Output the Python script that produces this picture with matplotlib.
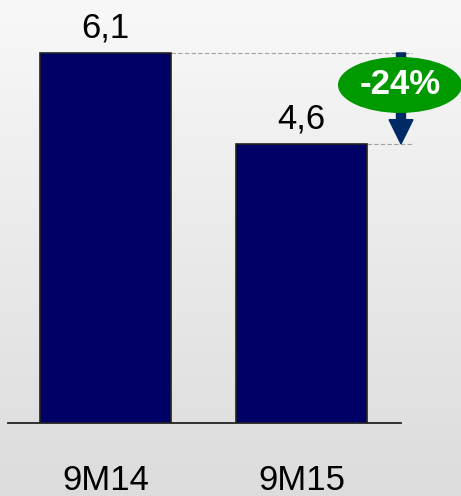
import numpy as np
import matplotlib
matplotlib.use('Agg')
import matplotlib.pyplot as plt
from matplotlib.patches import Ellipse, FancyArrow

plt.rcParams['font.family'] = ['Liberation Sans', 'DejaVu Sans']

categories = ['9M14', '9M15']
values = [6.1, 4.6]
value_labels = ['6,1', '4,6']
change_label = '-24%'

BAR_COLOR = '#000066'
GREEN = '#009900'
ARROW_COLOR = '#002a66'

fig = plt.figure(figsize=(4.61, 4.96), dpi=100)

# background gradient
bg = fig.add_axes([0, 0, 1, 1], zorder=-10)
grad = np.linspace(0, 1, 256).reshape(-1, 1)
bg.imshow(grad, aspect='auto', cmap=matplotlib.colors.LinearSegmentedColormap.from_list(
    'bg', ['#f8f8f8', '#dcdcdc']), extent=[0, 1, 0, 1])
bg.axis('off')

W, H = 461, 496
ax = fig.add_axes([8 / W, 1 - 423 / H, (401 - 8) / W, 418.6 / H])
ax.set_facecolor('none')
x = np.arange(len(categories))
ax.bar(x, values, width=0.668, color=BAR_COLOR, edgecolor='#222222', linewidth=1.2, zorder=3)
ax.set_xlim(-0.497, 1.508)
ax.set_ylim(0, 6.9)

for s in ['top', 'right', 'left']:
    ax.spines[s].set_visible(False)
ax.spines['bottom'].set_linewidth(1.3)
ax.spines['bottom'].set_color('#222222')
ax.set_yticks([])
ax.set_xticks([])

for xi, v, lab in zip(x, values, value_labels):
    ax.annotate(lab, (xi, v), xytext=(0, 11), textcoords='offset points',
                ha='center', va='baseline', fontsize=25)

for xi, lab in zip(x, categories):
    ax.annotate(lab, (xi, 0), xytext=(0, -48), textcoords='offset points',
                ha='center', va='baseline', fontsize=25)

# dashed guide lines
xa = 1.508
for xi, v in zip(x, values):
    ax.plot([xi + 0.334, 1.564], [v, v], color='#a0a0a0', linestyle=(0, (4, 2)),
            linewidth=0.8, clip_on=False, zorder=2)

# arrow
arr = FancyArrow(xa, values[0], 0, values[1] - values[0], width=0.046,
                 head_width=0.122, head_length=0.40, length_includes_head=True,
                 color=ARROW_COLOR, clip_on=False, zorder=4)
ax.add_patch(arr)

# ellipse badge
ell = Ellipse((1.503, 5.572), 0.633, 0.923, facecolor=GREEN, edgecolor='none',
              clip_on=False, zorder=5)
ax.add_patch(ell)
ax.text(1.503, 5.572, change_label, color='white', fontsize=25, fontweight='bold',
        ha='center', va='center', zorder=6, clip_on=False)

fig.savefig('out.png', dpi=100)
